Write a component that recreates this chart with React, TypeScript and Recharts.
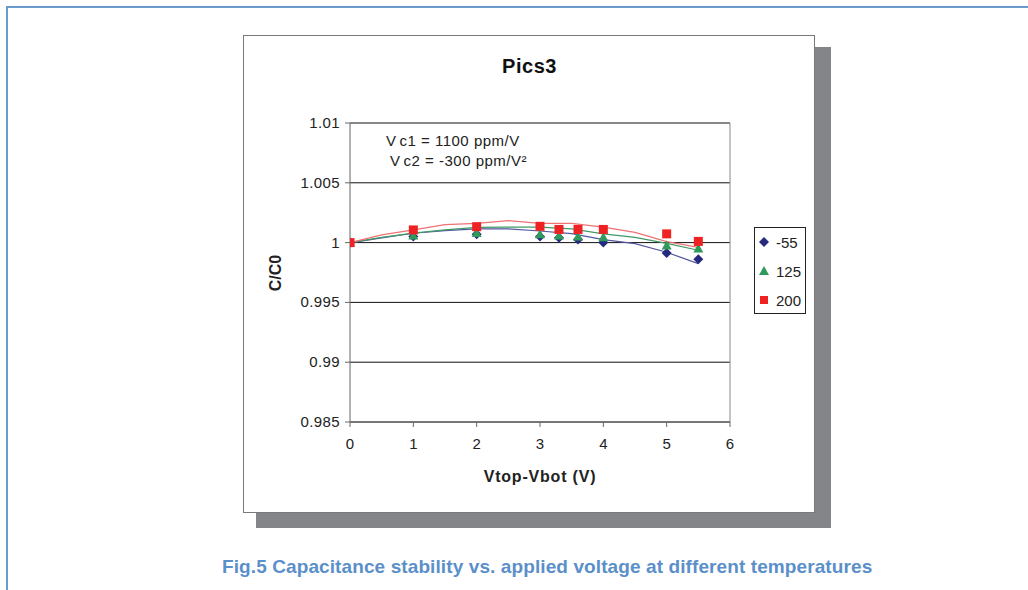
import React from 'react';
import { ComposedChart, Scatter, Line, XAxis, YAxis, CartesianGrid, ReferenceLine } from 'recharts';

// ---- data ----
const xTicks = [0, 1, 2, 3, 4, 5, 6];
const yTicks = [0.985, 0.99, 0.995, 1, 1.005, 1.01];
const yTickLabels = ['0.985', '0.99', '0.995', '1', '1.005', '1.01'];

const pointX = [0, 1, 2, 3, 3.3, 3.6, 4, 5, 5.5];
const ptM55 = [1.0, 1.0005, 1.0007, 1.0005, 1.0004, 1.00025, 1.0, 0.99912, 0.9986];
const pt125 = [1.0, 1.0006, 1.0008, 1.0007, 1.0006, 1.0005, 1.00045, 0.99975, 0.9995];
const pt200 = [1.0, 1.00106, 1.00133, 1.00136, 1.0011, 1.0011, 1.0011, 1.00073, 1.0001];

const lineX = [0, 0.5, 1, 1.5, 2, 2.5, 3, 3.5, 4, 4.5, 5, 5.5];
const lnM55 = [0.99998, 1.0004, 1.00078, 1.001, 1.00115, 1.00115, 1.00097, 1.00075, 1.00025, 0.99992, 0.99919, 0.99824];
const ln125 = [1.0, 1.00044, 1.0008, 1.00107, 1.00128, 1.0013, 1.0013, 1.00115, 1.00073, 1.00044, 0.99994, 0.99936];
const ln200 = [1.0, 1.00065, 1.00106, 1.0015, 1.0016, 1.00183, 1.0016, 1.0016, 1.0013, 1.00086, 1.00008, 0.9996];

const seriesNames = ['-55', '125', '200'];
const markerColors = ['#262a7e', '#2f9a5c', '#ee2222'];
const lineColors = ['#5656a0', '#3f9a68', '#f07272'];

const toPts = (xs: number[], ys: number[]) => xs.map((x, i) => ({ x, y: ys[i] }));

const FONT = '"Liberation Sans", Arial, sans-serif';

const Diamond = (p: any) => {
  const { cx, cy } = p;
  const r = 5;
  return <polygon points={`${cx},${cy - r} ${cx + r},${cy} ${cx},${cy + r} ${cx - r},${cy}`} fill={markerColors[0]} />;
};
const Triangle = (p: any) => {
  const { cx, cy } = p;
  return <polygon points={`${cx},${cy - 5} ${cx + 5},${cy + 4} ${cx - 5},${cy + 4}`} fill={markerColors[1]} />;
};
const Square = (p: any) => {
  const { cx, cy } = p;
  return <rect x={cx - 4.5} y={cy - 4.5} width={9} height={9} fill={markerColors[2]} />;
};

const YTick = (p: any) => {
  const { x, y, payload } = p;
  const i = yTicks.indexOf(payload.value);
  return (
    <text x={x - 3} y={y} dy={5} textAnchor="end" fontSize={15} fill="#222" fontFamily={FONT} letterSpacing={0.4}>
      {i >= 0 ? yTickLabels[i] : payload.value}
    </text>
  );
};
const XTick = (p: any) => {
  const { x, y, payload } = p;
  return (
    <text x={x} y={y} dy={20} textAnchor="middle" fontSize={15} fill="#222" fontFamily={FONT}>
      {payload.value}
    </text>
  );
};

const legendShapes = [
  (c: string) => <polygon points="6,1 11,6 6,11 1,6" fill={c} />,
  (c: string) => <polygon points="6,1 11,10 1,10" fill={c} />,
  (c: string) => <rect x={2} y={2} width={8} height={8} fill={c} />,
];

export default function App() {
  return (
    <div style={{ position: 'absolute', left: 0, top: 0, width: 1028, height: 590, background: '#fff', overflow: 'hidden', fontFamily: FONT }}>
      {/* page frame */}
      <div style={{ position: 'absolute', left: 6, top: 6, width: 1030, height: 600, borderLeft: '2px solid #6a9acb', borderTop: '2px solid #6a9acb' }} />
      {/* shadow */}
      <div style={{ position: 'absolute', left: 256, top: 47, width: 575, height: 481, background: '#848588' }} />
      {/* chart frame */}
      <div style={{ position: 'absolute', left: 243, top: 35, width: 570, height: 476, background: '#fff', border: '1.5px solid #7a7a7a' }} />
      <div style={{ position: 'absolute', left: 244, top: 36 }}>
        <ComposedChart width={571} height={474} margin={{ top: 87, right: 85, bottom: 58, left: 46 }}>
          <CartesianGrid horizontal={true} vertical={false} stroke="#111" strokeWidth={1} />
          <XAxis
            type="number"
            dataKey="x"
            domain={[0, 6]}
            ticks={xTicks}
            interval={0}
            allowDataOverflow
            axisLine={{ stroke: '#666' }}
            tickLine={{ stroke: '#666' }}
            tickSize={5}
            height={30}
            tick={<XTick />}
          />
          <YAxis
            type="number"
            dataKey="y"
            domain={[0.985, 1.01]}
            ticks={yTicks}
            interval={0}
            allowDataOverflow
            axisLine={{ stroke: '#666' }}
            tickLine={{ stroke: '#666' }}
            tickSize={5}
            width={60}
            tick={<YTick />}
          />
          <ReferenceLine x={6} stroke="#888" />
          <Line data={toPts(lineX, lnM55)} dataKey="y" type="linear" stroke={lineColors[0]} strokeWidth={1.2} dot={false} isAnimationActive={false} name="-55 fit" legendType="none" />
          <Line data={toPts(lineX, ln125)} dataKey="y" type="linear" stroke={lineColors[1]} strokeWidth={1.2} dot={false} isAnimationActive={false} name="125 fit" legendType="none" />
          <Line data={toPts(lineX, ln200)} dataKey="y" type="linear" stroke={lineColors[2]} strokeWidth={1.2} dot={false} isAnimationActive={false} name="200 fit" legendType="none" />
          <Scatter data={toPts(pointX, ptM55)} dataKey="y" name={seriesNames[0]} shape={Diamond} isAnimationActive={false} />
          <Scatter data={toPts(pointX, pt125)} dataKey="y" name={seriesNames[1]} shape={Triangle} isAnimationActive={false} />
          <Scatter data={toPts(pointX, pt200)} dataKey="y" name={seriesNames[2]} shape={Square} isAnimationActive={false} />
        </ComposedChart>
      </div>
      {/* title */}
      <div style={{ position: 'absolute', left: 244, width: 571, top: 55, textAlign: 'center', fontSize: 20, fontWeight: 'bold', color: '#111', letterSpacing: 0.5 }}>Pics3</div>
      {/* annotation */}
      <div style={{ position: 'absolute', left: 386, top: 131, fontSize: 15, color: '#222', letterSpacing: 0.5, lineHeight: '20px', whiteSpace: 'pre' }}>
        <div><span style={{ marginRight: 3 }}>V</span>c1 = 1100 ppm/V</div>
        <div style={{ paddingLeft: 4 }}><span style={{ marginRight: 3 }}>V</span>c2 = -300 ppm/V²</div>
      </div>
      {/* y label */}
      <div style={{ position: 'absolute', left: 276, top: 273, transform: 'translate(-50%, -50%) rotate(-90deg)', fontSize: 16, fontWeight: 'bold', color: '#222', whiteSpace: 'nowrap' }}>C/C0</div>
      {/* x label */}
      <div style={{ position: 'absolute', left: 350, width: 380, top: 468, textAlign: 'center', fontSize: 16, fontWeight: 'bold', color: '#222', letterSpacing: 0.8 }}>Vtop-Vbot (V)</div>
      {/* legend */}
      <div style={{ position: 'absolute', left: 754, top: 227, width: 52, height: 87, border: '1px solid #222', background: '#fff', boxSizing: 'border-box' }}>
        {seriesNames.map((n, i) => (
          <div key={n} style={{ position: 'absolute', left: 3, top: 4 + i * 29, height: 20, display: 'flex', alignItems: 'center' }}>
            <svg width={12} height={12} style={{ marginRight: 6 }}>{legendShapes[i](markerColors[i])}</svg>
            <span style={{ fontSize: 15, color: '#222' }}>{n}</span>
          </div>
        ))}
      </div>
      {/* caption */}
      <div style={{ position: 'absolute', left: 222, top: 556, whiteSpace: 'nowrap', fontSize: 19, fontWeight: 'bold', color: '#5b8fc9', letterSpacing: 0.1 }}>
        Fig.5 Capacitance stability vs. applied voltage at different temperatures
      </div>
    </div>
  );
}
